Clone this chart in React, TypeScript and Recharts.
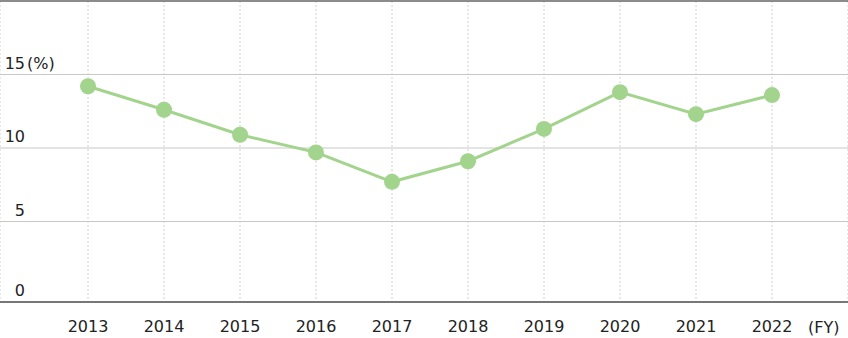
import { CartesianGrid, Line, LineChart, ReferenceLine, XAxis, YAxis } from 'recharts';

const years = ['2013', '2014', '2015', '2016', '2017', '2018', '2019', '2020', '2021', '2022'];
const ratio = [14.2, 12.6, 10.9, 9.7, 7.7, 9.1, 11.3, 13.8, 12.3, 13.6];
const yTicks = [0, 5, 10, 15, 20];

const FONT = '"DejaVu Sans", sans-serif';

// numeric x so the grid can run edge to edge while points stay inset
const chartData = years.map((year, i) => ({ idx: i, year, ratio: ratio[i] }));
const xTicks = years.map((_, i) => i);

// y labels sit just above their gridline, right-aligned at the left edge
const renderYTick = (props: any) => {
  const { y, payload } = props;
  const v = payload.value as number;
  if (v === 20) return <g />;
  // the zero label rides on the axis line, which sits a few px below the 0 tick
  const ty = v === 0 ? y + 7 - 6 : y - 6;
  return (
    <g>
      <text x={25} y={ty} textAnchor="end" fill="#222" fontSize={16} fontFamily={FONT}>
        {v}
      </text>
      {v === 15 ? (
        <text x={27} y={ty} textAnchor="start" fill="#222" fontSize={16} fontFamily={FONT}>
          (%)
        </text>
      ) : null}
    </g>
  );
};

export default function App() {
  return (
    <div style={{ position: 'absolute', left: 0, top: 0, width: 848, height: 338, background: '#fff' }}>
      <LineChart width={848} height={338} data={chartData} margin={{ top: 1, right: 0, bottom: 0, left: -1 }}>
        <CartesianGrid vertical={false} horizontalValues={[5, 10, 15]} stroke="#c8c8c8" />
        <CartesianGrid horizontal={false} stroke="#d0d0d0" strokeDasharray="2 2" />
        <ReferenceLine y={20} stroke="#666" strokeWidth={1.5} />
        <XAxis
          dataKey="idx"
          type="number"
          domain={[-1.158, 10]}
          ticks={xTicks}
          tickFormatter={(i: number) => years[i]}
          allowDataOverflow
          height={36}
          tickSize={0}
          tickMargin={19}
          axisLine={{ stroke: '#777', strokeWidth: 2 }}
          tickLine={false}
          tick={{ fill: '#222', fontSize: 16, fontFamily: FONT }}
          interval={0}
        />
        <YAxis
          width={1}
          domain={[0, 20]}
          ticks={yTicks}
          interval={0}
          padding={{ top: 0, bottom: 7 }}
          axisLine={false}
          tickLine={false}
          tick={renderYTick}
        />
        <text x={808} y={333} fill="#222" fontSize={16} fontFamily={FONT}>
          (FY)
        </text>
        <Line
          dataKey="ratio"
          stroke="#a3d48d"
          strokeWidth={3}
          dot={{ r: 8, fill: '#a3d48d', stroke: 'none' }}
          activeDot={false}
          isAnimationActive={false}
        />
      </LineChart>
    </div>
  );
}
